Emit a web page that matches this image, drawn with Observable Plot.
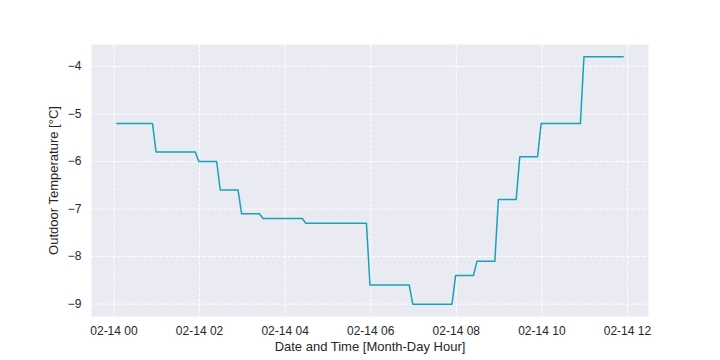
<!DOCTYPE html>
<html><head><meta charset="utf-8">
<script src="https://cdn.jsdelivr.net/npm/d3@7"></script>
<script src="https://cdn.jsdelivr.net/npm/@observablehq/plot@0.6"></script>
<style>
body{margin:0;background:#fff}
#chart{width:720px;height:360px}
g[aria-label="x-axis label"] text, g[aria-label="y-axis label"] text{font-size:13px}
</style>
</head><body><div id="chart"></div>
<script>
const day = "2024-02-14";
const times = ["00:04","00:54","00:59","01:54","01:59","02:24","02:29","02:54","02:59","03:24","03:29","04:24","04:29","05:54","05:59","06:54","06:59","07:54","07:59","08:24","08:29","08:54","08:59","09:24","09:29","09:54","09:59","10:54","10:59","11:54"];
const temps = [-5.2,-5.2,-5.8,-5.8,-6.0,-6.0,-6.6,-6.6,-7.1,-7.1,-7.2,-7.2,-7.3,-7.3,-8.6,-8.6,-9.0,-9.0,-8.4,-8.4,-8.1,-8.1,-6.8,-6.8,-5.9,-5.9,-5.2,-5.2,-3.8,-3.8];
const xTickHours = ["00","02","04","06","08","10","12"];
const yTicks = [-9,-8,-7,-6,-5,-4];

const data = times.map((t,i)=>({date:new Date(`${day}T${t}:00Z`), temp:temps[i]}));
const [x0,x1] = d3.extent(data,d=>d.date);
const xpad = (x1-x0)*0.05;
const [y0,y1] = d3.extent(temps);
const ypad = (y1-y0)*0.05;
const tickDates = xTickHours.map(h=>new Date(`${day}T${h}:00:00Z`));
const fmt = d3.utcFormat("%m-%d %H");

const chart = Plot.plot({
  width:720, height:360,
  marginLeft:91, marginRight:72, marginTop:44, marginBottom:44,
  style:{fontFamily:"'Liberation Sans', Arial, sans-serif", fontSize:"12px", background:"#fff", color:"#262626"},
  x:{type:"utc", domain:[new Date(+x0-xpad), new Date(+x1+xpad)], ticks:tickDates, tickFormat:d=>fmt(d),
     tickSize:0, tickPadding:10, label:"Date and Time [Month-Day Hour]", labelAnchor:"center", labelOffset:34, labelArrow:"none"},
  y:{domain:[y0-ypad, y1+ypad], ticks:yTicks, tickFormat:d=>(d<0?"\u2212"+Math.abs(d):String(d)),
     tickSize:0, tickPadding:10, label:"Outdoor Temperature [°C]", labelAnchor:"center", labelOffset:43, labelArrow:"none"},
  marks:[
    Plot.frame({fill:"#EAEAF2", stroke:null}),
    Plot.gridX(tickDates,{stroke:"#fff", strokeOpacity:1, strokeWidth:1, strokeDasharray:"3.7,1.6"}),
    Plot.gridY(yTicks,{stroke:"#fff", strokeOpacity:1, strokeWidth:1, strokeDasharray:"3.7,1.6"}),
    Plot.line(data,{x:"date", y:"temp", stroke:"#17a2b8", strokeWidth:1.5})
  ]
});
document.getElementById("chart").appendChild(chart);
</script>
</body></html>
